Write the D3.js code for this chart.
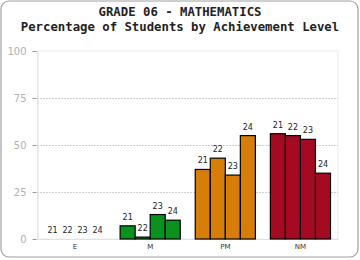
<!DOCTYPE html>
<html>
<head>
<meta charset="utf-8">
<script src="https://cdn.jsdelivr.net/npm/d3@7"></script>
<style>
  body { margin: 0; background: #fff; }
  svg { display: block; }
</style>
</head>
<body>
<div id="chart"></div>
<script>
// chart data
var categories = ["E", "M", "PM", "NM"];
var years = ["21", "22", "23", "24"];
var colors = ["#0a9120", "#0a9120", "#d67d0a", "#a50a23"];
var valuesE = [0, 0, 0, 0];
var valuesM = [7, 1, 13, 10];
var valuesPM = [37, 43, 34, 55];
var valuesNM = [56, 55, 53, 35];
var yTicks = [0, 25, 50, 75, 100];
var titleLines = ["GRADE 06 - MATHEMATICS", "Percentage of Students by Achievement Level"];

var series = [valuesE, valuesM, valuesPM, valuesNM];

var W = 360, H = 260;
var margin = {top: 51, right: 22, bottom: 21, left: 37.5};
var width = W - margin.left - margin.right;
var height = H - margin.top - margin.bottom;

var root = d3.select("#chart").append("svg")
  .attr("width", W)
  .attr("height", H);

// outer rounded border
root.append("rect")
  .attr("x", 1).attr("y", 1)
  .attr("width", W - 3).attr("height", H - 4)
  .attr("rx", 8)
  .attr("fill", "#fff")
  .attr("stroke", "#a0a0a0")
  .attr("stroke-width", 1.2);

// title
root.selectAll(".title")
  .data(titleLines)
  .enter().append("text")
  .attr("class", "title")
  .attr("x", W / 2)
  .attr("y", function(d, i) { return 16 + i * 14.5; })
  .attr("text-anchor", "middle")
  .attr("font-family", "DejaVu Sans Mono, monospace")
  .attr("font-weight", "bold")
  .attr("font-size", 12.3)
  .attr("fill", "#222")
  .text(function(d) { return d; });

var svg = root.append("g")
  .attr("transform", "translate(" + margin.left + "," + margin.top + ")");

var x = d3.scaleBand().domain(categories).range([0, width]).paddingInner(0).paddingOuter(0);
var x1 = d3.scaleBand().domain(years).range([7.5, x.bandwidth() - 7.5]);
var y = d3.scaleLinear().domain([0, 100]).range([height, 0]);

// plot frame
svg.append("rect")
  .attr("x", 0).attr("y", 0)
  .attr("width", width).attr("height", height)
  .attr("fill", "none")
  .attr("stroke", "#ececec");

// dotted grid lines
svg.selectAll(".grid")
  .data(yTicks.filter(function(d) { return d > 0 && d < 100; }))
  .enter().append("line")
  .attr("x1", 0).attr("x2", width)
  .attr("y1", function(d) { return y(d) + 0.5; })
  .attr("y2", function(d) { return y(d) + 0.5; })
  .attr("stroke", "#888")
  .attr("stroke-width", 0.8)
  .attr("stroke-dasharray", "1,2");

// Y axis
var yAxis = svg.append("g")
  .call(d3.axisLeft(y).tickValues(yTicks).tickSize(4).tickPadding(7));
yAxis.select(".domain").attr("stroke", "#e0e0e0");
yAxis.selectAll(".tick line").attr("stroke", "#999").attr("transform", "translate(-1,0)");
yAxis.selectAll(".tick text")
  .attr("fill", "#b0b0b0")
  .attr("font-family", "Verdana, DejaVu Sans, sans-serif")
  .attr("font-size", 10);

// X axis labels
var xAxis = svg.append("g")
  .attr("transform", "translate(0," + height + ")")
  .call(d3.axisBottom(x).tickSize(0).tickPadding(5));
xAxis.select(".domain").attr("stroke", "#e0e0e0");
xAxis.selectAll(".tick text")
  .attr("fill", "#333")
  .attr("font-family", "DejaVu Sans, sans-serif")
  .attr("font-size", 7);

// bars
var groups = svg.selectAll(".grp")
  .data(categories)
  .enter().append("g")
  .attr("class", "grp")
  .attr("transform", function(d) { return "translate(" + x(d) + ",0)"; });

groups.each(function(cat, ci) {
  var g = d3.select(this);
  var vals = series[ci].map(function(v, i) { return {year: years[i], value: v}; });

  g.selectAll("rect")
    .data(vals.filter(function(d) { return d.value > 0; }))
    .enter().append("rect")
    .attr("x", function(d) { return x1(d.year); })
    .attr("y", function(d) { return y(d.value); })
    .attr("width", x1.bandwidth())
    .attr("height", function(d) { return height - y(d.value); })
    .attr("fill", colors[ci])
    .attr("stroke", "#000")
    .attr("stroke-width", 1.2);

  g.selectAll("text")
    .data(vals)
    .enter().append("text")
    .attr("x", function(d) { return x1(d.year) + x1.bandwidth() / 2; })
    .attr("y", function(d) { return y(d.value) - 6; })
    .attr("text-anchor", "middle")
    .attr("font-family", "DejaVu Sans, sans-serif")
    .attr("font-size", 8)
    .attr("fill", "#222")
    .text(function(d) { return d.year; });
});
</script>
</body>
</html>
